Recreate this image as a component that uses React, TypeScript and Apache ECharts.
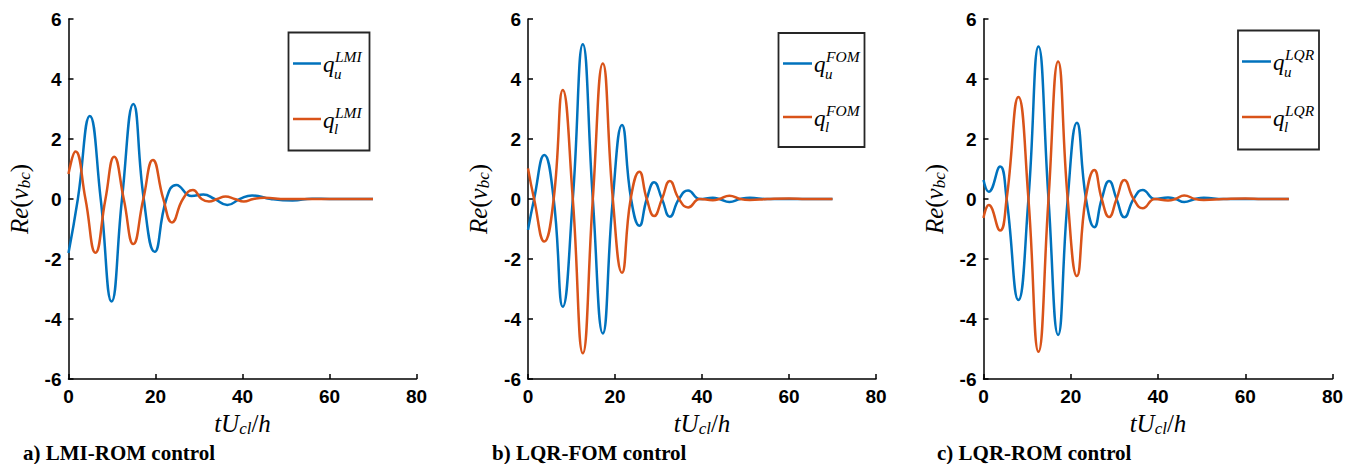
import React, { useEffect, useRef } from "react";
import * as echarts from "echarts";

// ---------- data ----------
const panelCaptions = ["a) LMI-ROM control", "b) LQR-FOM control", "c) LQR-ROM control"];
const legendSups = ["LMI", "FOM", "LQR"];

// Panel a (LMI-ROM)
const tA_u = [0, 2.15, 4.9, 7.4, 9.9, 12.3, 14.9, 17.3, 19.8, 22.5, 24.8, 28.3, 31, 33.6, 36.5, 39.4, 42.2, 46.5, 51.5, 56, 60, 70];
const vA_u = [-1.8, 0, 2.77, 0, -3.42, 0, 3.17, 0, -1.76, 0, 0.47, 0.1, 0.15, 0, -0.2, 0, 0.12, 0, -0.05, 0.01, 0, 0];
const tA_l = [0, 1.6, 3.9, 6.2, 8.5, 10.5, 12.7, 14.9, 17.2, 19.4, 21.8, 23.8, 26.3, 28.6, 30.6, 32.3, 34.2, 36.1, 38.2, 40.3, 42.5, 45, 50, 70];
const vA_l = [0.83, 1.58, 0, -1.79, 0, 1.41, 0, -1.5, 0, 1.3, 0, -0.78, 0, 0.3, 0, -0.08, 0, 0.08, 0, -0.08, 0, 0.04, 0, 0];

// Panel b (LQR-FOM)
const tB_u = [0, 1.4, 3.75, 5.9, 8.0, 10.3, 12.6, 14.9, 17.2, 19.5, 21.6, 23.7, 25.6, 27.3, 29.0, 30.8, 32.6, 34.7, 36.8, 39.5, 42.5, 44, 46.3, 48.8, 51, 55, 70];
const vB_u = [-1.03, 0, 1.47, 0, -3.59, 0, 5.16, 0, -4.48, 0, 2.47, 0, -0.89, 0, 0.56, 0, -0.59, 0, 0.28, 0, 0.04, 0, -0.1, 0, 0.04, 0, 0];
const tB_l = [0, 1.4, 3.75, 5.9, 8.0, 10.3, 12.6, 14.9, 17.2, 19.5, 21.6, 23.6, 25.6, 27.3, 29.0, 30.8, 32.6, 34.7, 36.8, 39.5, 42.5, 44, 46.3, 48.8, 51, 55, 60, 64, 70];
const vB_l = [1.02, 0, -1.42, 0, 3.63, 0, -5.14, 0, 4.52, 0, -2.46, 0, 0.91, 0, -0.57, 0, 0.6, 0, -0.28, 0, -0.04, 0, 0.11, 0, -0.03, 0, 0.02, 0, 0];

// Panel c (LQR-ROM)
const tC_u = [0, 1.2, 3.8, 5.3, 8.0, 10.3, 12.6, 14.9, 17.1, 19.3, 21.4, 23.5, 25.4, 27.1, 28.8, 30.5, 32.3, 34.4, 36.5, 39.3, 42.3, 44, 46, 48.5, 50.5, 55, 70];
const vC_u = [0.63, 0.24, 1.08, 0, -3.37, 0, 5.08, 0, -4.53, 0, 2.54, 0, -0.94, 0, 0.6, 0, -0.61, 0, 0.3, 0, 0.05, 0, -0.1, 0, 0.04, 0, 0];
const tC_l = [0, 1.2, 3.8, 5.3, 8.0, 10.3, 12.6, 14.9, 17.1, 19.3, 21.4, 23.4, 25.4, 27.1, 28.8, 30.5, 32.3, 34.4, 36.5, 39.3, 42.3, 44, 46, 48.5, 50.5, 55, 60, 64, 70];
const vC_l = [-0.63, -0.2, -1.05, 0, 3.4, 0, -5.09, 0, 4.58, 0, -2.57, 0, 0.97, 0, -0.6, 0, 0.63, 0, -0.31, 0, -0.05, 0, 0.12, 0, -0.03, 0, 0.02, 0, 0];

const panelData = [
  { tu: tA_u, vu: vA_u, tl: tA_l, vl: vA_l },
  { tu: tB_u, vu: vB_u, tl: tB_l, vl: vB_l },
  { tu: tC_u, vu: vC_u, tl: tC_l, vl: vC_l },
];

const X_MIN = 0, X_MAX = 80, X_INT = 20;
const Y_MIN = -6, Y_MAX = 6, Y_INT = 2;

// ---------- styles / layout ----------
const BLUE = "#0072BD";
const ORANGE = "#D95319";
const gridLeft = [68.5, 528, 983.5];
const gridWidth = [348, 348, 349];
const gridTop = 19;
const gridHeight = 360;
const captionX = [23, 492, 937];
const legendBox = [
  { x: 288.5, y: 32.5, w: 81, h: 118, lx0: 293, lx1: 321, y1: 63.5, y2: 119, tx: 323 },
  { x: 778.5, y: 33, w: 86, h: 114, lx0: 783, lx1: 812, y1: 63.5, y2: 117, tx: 814 },
  { x: 1238, y: 30.5, w: 81, h: 119, lx0: 1242, lx1: 1271, y1: 61.5, y2: 117, tx: 1273 },
];

const SERIF = "'Liberation Serif', 'DejaVu Serif', serif";
const SANS = "'Liberation Sans', Arial, sans-serif";

const mathRich = {
  i: { fontFamily: SERIF, fontStyle: "italic", fontSize: 25, color: "#000" },
  n: { fontFamily: SERIF, fontSize: 25, color: "#000" },
  s: { fontFamily: SERIF, fontStyle: "italic", fontSize: 17, color: "#000", padding: [10, 0, 0, 0] },
};

function buildOption() {
  const grids: any[] = [];
  const xAxes: any[] = [];
  const yAxes: any[] = [];
  const series: any[] = [];
  const graphics: any[] = [];

  for (let i = 0; i < 3; i++) {
    grids.push({ left: gridLeft[i], top: gridTop, width: gridWidth[i], height: gridHeight, containLabel: false });
    xAxes.push({
      gridIndex: i,
      type: "value",
      min: X_MIN,
      max: X_MAX,
      interval: X_INT,
      axisLine: { show: true, onZero: false, lineStyle: { color: "#000", width: 1.5 } },
      axisTick: { show: true, inside: true, length: 5, lineStyle: { color: "#000", width: 1.5 } },
      splitLine: { show: false },
      axisLabel: { fontFamily: SANS, fontWeight: "bold", fontSize: 19, color: "#000", margin: 8 },
      name: "{i|tU}{s|cl}{n|/}{i|h}",
      nameLocation: "middle",
      nameGap: 29,
      nameTextStyle: { rich: mathRich },
    });
    yAxes.push({
      gridIndex: i,
      type: "value",
      min: Y_MIN,
      max: Y_MAX,
      interval: Y_INT,
      axisLine: { show: true, onZero: false, lineStyle: { color: "#000", width: 1.5 } },
      axisTick: { show: true, inside: true, length: 5, lineStyle: { color: "#000", width: 1.5 } },
      splitLine: { show: false },
      axisLabel: { fontFamily: SANS, fontWeight: "bold", fontSize: 19, color: "#000", margin: 7 },
      name: "{i|Re}{n|(}{i|v}{s|bc}{n|)}",
      nameLocation: "middle",
      nameRotate: 90,
      nameGap: 36,
      nameTextStyle: { rich: mathRich },
    });

    const d = panelData[i];
    series.push({
      name: "q_u^" + legendSups[i],
      type: "line",
      xAxisIndex: i,
      yAxisIndex: i,
      data: d.tu.map((t, k) => [t, d.vu[k]]),
      symbol: "none",
      showSymbol: false,
      smooth: 0.5,
      lineStyle: { color: BLUE, width: 2.5 },
      itemStyle: { color: BLUE },
      z: 3,
    });
    series.push({
      name: "q_l^" + legendSups[i],
      type: "line",
      xAxisIndex: i,
      yAxisIndex: i,
      data: d.tl.map((t, k) => [t, d.vl[k]]),
      symbol: "none",
      showSymbol: false,
      smooth: 0.5,
      lineStyle: { color: ORANGE, width: 2.5 },
      itemStyle: { color: ORANGE },
      z: 4,
    });

    // legend box
    const lb = legendBox[i];
    graphics.push({
      type: "rect",
      shape: { x: lb.x, y: lb.y, width: lb.w, height: lb.h },
      style: { fill: "#fff", stroke: "#262626", lineWidth: 1.8 },
      z: 10,
    });
    const rows = [
      { y: lb.y1, color: BLUE, sub: "u" },
      { y: lb.y2, color: ORANGE, sub: "l" },
    ];
    rows.forEach((r) => {
      graphics.push({
        type: "line",
        shape: { x1: lb.lx0, y1: r.y, x2: lb.lx1, y2: r.y },
        style: { stroke: r.color, lineWidth: 2.5 },
        z: 11,
      });
      graphics.push({
        type: "text",
        x: lb.tx,
        y: r.y + 1,
        style: { text: "q", fontFamily: SERIF, fontStyle: "italic", fontSize: 23, fill: "#000", textAlign: "left", textVerticalAlign: "middle", align: "left", verticalAlign: "middle" },
        z: 11,
      });
      graphics.push({
        type: "text",
        x: lb.tx + 11,
        y: r.y + 10,
        style: { text: r.sub, fontFamily: SERIF, fontStyle: "italic", fontSize: 15, fill: "#000", textAlign: "left", textVerticalAlign: "middle", align: "left", verticalAlign: "middle" },
        z: 11,
      });
      graphics.push({
        type: "text",
        x: lb.tx + 12,
        y: r.y - 7,
        style: { text: legendSups[i], fontFamily: SERIF, fontStyle: "italic", fontSize: 15.5, fill: "#000", textAlign: "left", textVerticalAlign: "middle", align: "left", verticalAlign: "middle" },
        z: 11,
      });
    });

    // caption
    graphics.push({
      type: "text",
      x: captionX[i],
      y: 453,
      style: { text: panelCaptions[i], fontFamily: SERIF, fontWeight: "bold", fontSize: 21, fill: "#000", textAlign: "left", textVerticalAlign: "middle", align: "left", verticalAlign: "middle" },
      z: 11,
    });
  }

  return {
    animation: false,
    backgroundColor: "#fff",
    grid: grids,
    xAxis: xAxes,
    yAxis: yAxes,
    series,
    graphic: { elements: graphics },
  };
}

export default function App() {
  const ref = useRef<HTMLDivElement>(null);
  useEffect(() => {
    if (!ref.current) return;
    const chart = echarts.init(ref.current, null, { renderer: "svg" });
    chart.setOption(buildOption() as any);
    return () => chart.dispose();
  }, []);
  return (
    <div
      ref={ref}
      style={{ position: "fixed", left: 0, top: 0, width: 1357, height: 464, background: "#fff" }}
    />
  );
}
